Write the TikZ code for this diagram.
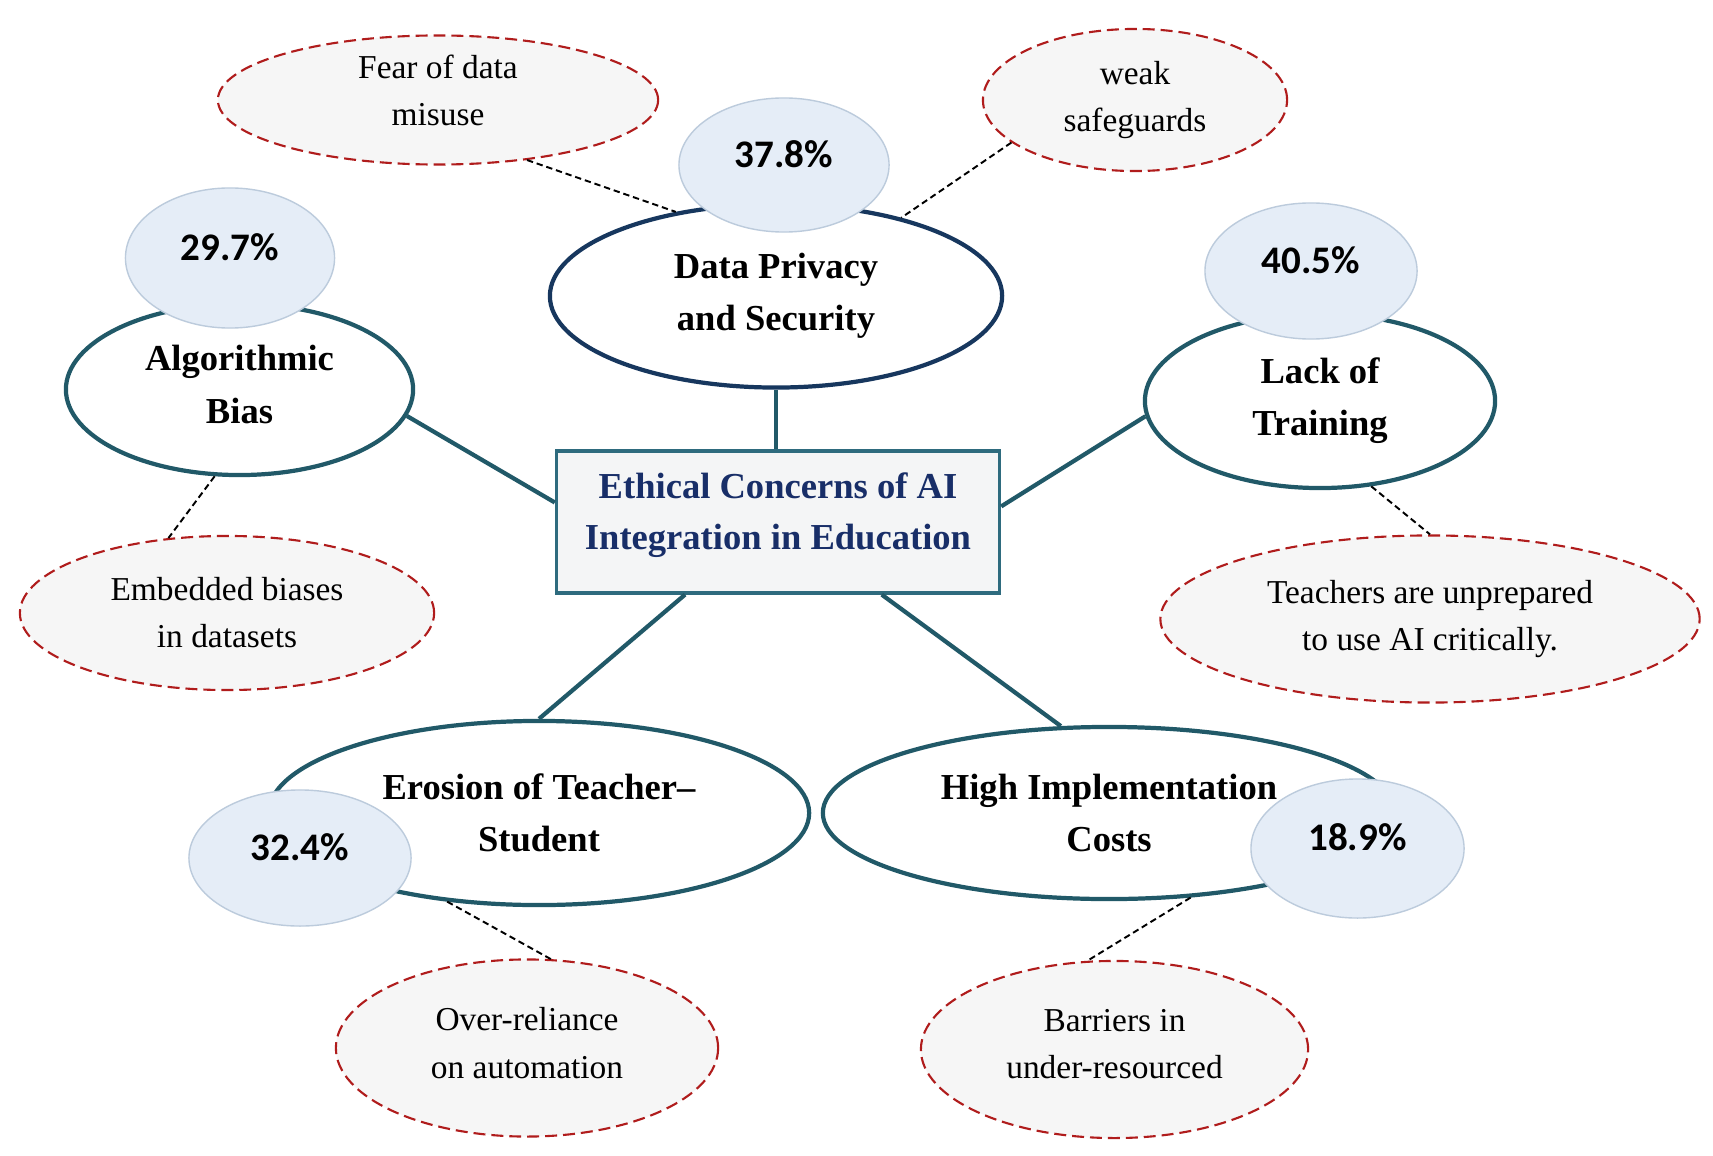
\documentclass[tikz,border=0pt]{standalone}
\usepackage{fontspec}
\setmainfont{Liberation Serif}
\newfontfamily\calib{Carlito}
\usetikzlibrary{shapes.geometric}
\definecolor{tealline}{HTML}{215968}
\definecolor{navyline}{HTML}{17375E}
\definecolor{boxedge}{HTML}{2E6B7E}
\definecolor{boxfill}{HTML}{F4F5F6}
\definecolor{boxtext}{RGB}{24,46,104}
\definecolor{bubfill}{HTML}{E5EDF7}
\definecolor{bubedge}{HTML}{BCCBDC}
\definecolor{noteedge}{HTML}{B01C1C}
\definecolor{notefill}{HTML}{F6F6F6}
\tikzset{
  maintext/.style={align=center, font={\fontsize{10.4pt}{14.8pt}\selectfont\bfseries}},
  mainell/.style={ellipse, draw=tealline, line width=1.2pt, fill=white, inner sep=0pt, maintext},
  bubble/.style={ellipse, draw=bubedge, line width=0.4pt, fill=bubfill, inner sep=0pt},
  pcttext/.style={font={\calib\bfseries\fontsize{11.1pt}{13pt}\selectfont}, yshift=0.11cm},
  notetext/.style={align=center, font={\fontsize{9.5pt}{13.4pt}\selectfont}},
  noteell/.style={ellipse, draw=noteedge, fill=notefill, line width=0.6pt,
    dash pattern=on 3.4pt off 1.7pt, inner sep=0pt, notetext},
  spoke/.style={draw=tealline, line width=1.2pt},
  notelink/.style={draw=black, line width=0.55pt, dash pattern=on 1.8pt off 1.1pt},
}
\begin{document}
\begin{tikzpicture}[x=0.01cm,y=-0.01cm]
\useasboundingbox[fill=white] (0,0) rectangle (1713,1155);

% central box
\node[draw=boxedge, line width=0.9pt, fill=boxfill, minimum width=4.43cm, minimum height=1.42cm,
  inner sep=0pt,
  label={[align=center, text=boxtext, font={\fontsize{10.4pt}{14.5pt}\selectfont\bfseries}, yshift=0.07cm]center:Ethical Concerns of AI\\Integration in Education}]
  (box) at (778,522) {};

% main ellipses
\node[mainell, draw=navyline, minimum width=4.52cm, minimum height=1.83cm] (dp) at (776,296) {Data Privacy\\and Security};
\node[mainell, minimum width=3.47cm, minimum height=1.71cm,
  label={[maintext, yshift=0.05cm]center:Algorithmic\\Bias}] (ab) at (239.5,389.5) {};
\node[mainell, minimum width=3.50cm, minimum height=1.74cm] (lt) at (1320,401) {Lack of\\Training};
\node[mainell, minimum width=5.40cm, minimum height=1.84cm] (er) at (539,813) {Erosion of Teacher–\\Student};
\node[mainell, minimum width=5.72cm, minimum height=1.72cm] (hc) at (1109,813) {High Implementation\\Costs};

% spokes
\draw[spoke] (box.north -| dp.south) -- (dp.south);
\draw[spoke] (box.175.9) -- (ab.-9.8);
\draw[spoke] (box.4.4) -- (lt.185.3);
\draw[spoke] (box.-142.3) -- (er.north);
\draw[spoke] (box.-35.1) -- (hc.119.4);

% percentage bubbles
\node[bubble, minimum width=2.10cm, minimum height=1.34cm, label={[pcttext]center:37.8\%}] (b1) at (784,165) {};
\node[bubble, minimum width=2.09cm, minimum height=1.40cm, label={[pcttext]center:29.7\%}] (b2) at (230,258) {};
\node[bubble, minimum width=2.12cm, minimum height=1.36cm, label={[pcttext]center:40.5\%}] (b3) at (1311,271) {};
\node[bubble, minimum width=2.22cm, minimum height=1.36cm, label={[pcttext]center:32.4\%}] (b4) at (300,858) {};
\node[bubble, minimum width=2.13cm, minimum height=1.39cm, label={[pcttext]center:18.9\%}] (b5) at (1357.5,848.5) {};

% notes
\node[noteell, minimum width=4.40cm, minimum height=1.29cm,
  label={[notetext, yshift=0.1cm]center:Fear of data\\misuse}] (n1) at (438,100) {};
\node[noteell, minimum width=3.04cm, minimum height=1.42cm] (n2) at (1135,100) {weak\\safeguards};
\node[noteell, minimum width=4.14cm, minimum height=1.54cm] (n3) at (227,613) {Embedded biases\\in datasets};
\node[noteell, minimum width=5.39cm, minimum height=1.67cm] (n4) at (1430,619) {Teachers are unprepared\\to use AI critically.};
\node[noteell, minimum width=3.82cm, minimum height=1.77cm,
  label={[notetext, yshift=0.05cm]center:Over-reliance\\on automation}] (n5) at (527,1048) {};
\node[noteell, minimum width=3.87cm, minimum height=1.77cm,
  label={[notetext, yshift=0.05cm]center:Barriers in\\under-resourced}] (n6) at (1114.5,1049.5) {};

% note links
\draw[notelink] (n1.-34) -- (dp.140.4);
\draw[notelink] (n2.199.4) -- (dp.32);
\draw[notelink] (ab.-106) -- (n3.128);
\draw[notelink] (lt.-59.6) -- (n4.90);
\draw[notelink] (er.-136.6) -- (n5.75);
\draw[notelink] (hc.-46.8) -- (n6.107);
\end{tikzpicture}
\end{document}
